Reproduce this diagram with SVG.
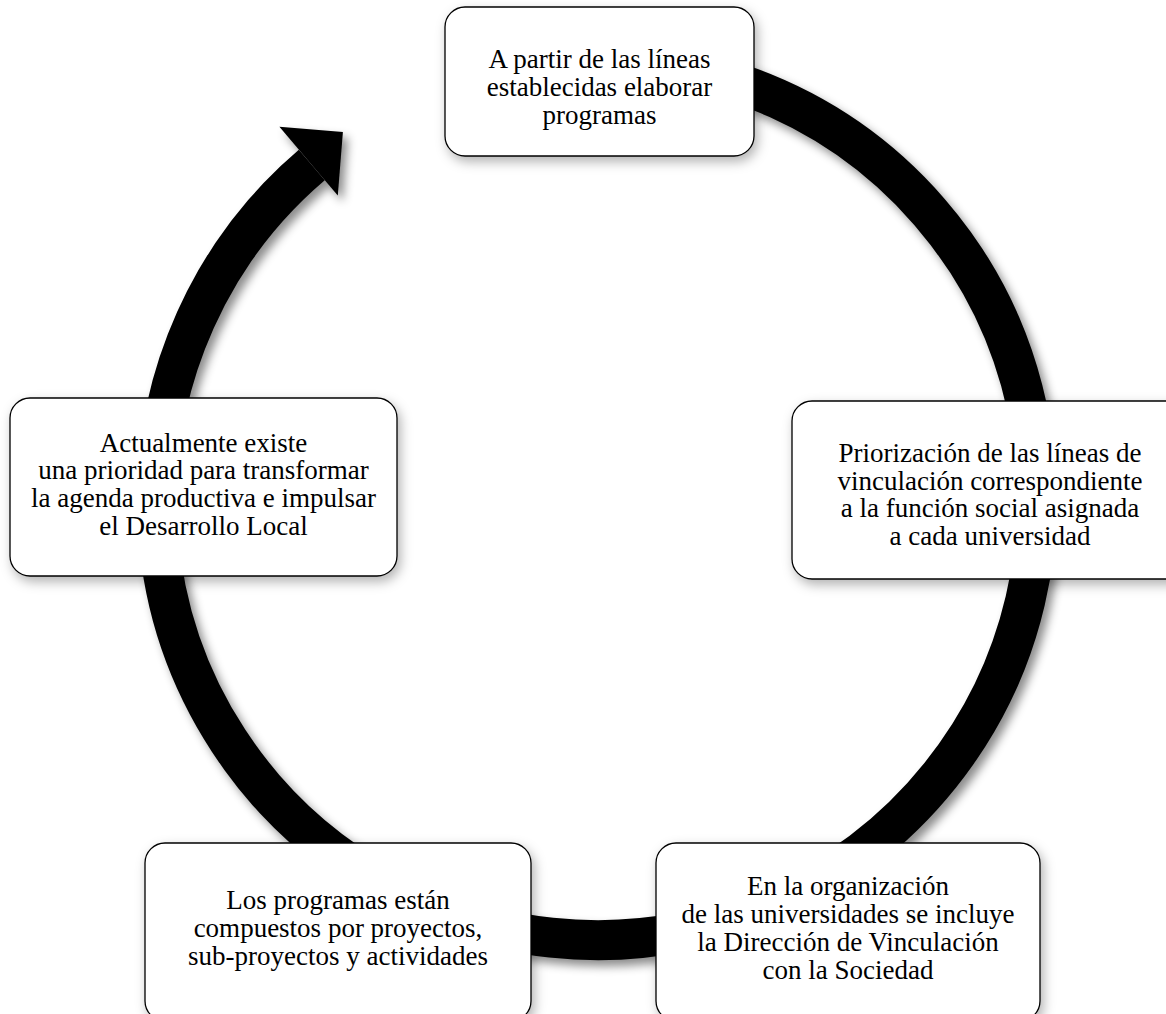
<svg xmlns="http://www.w3.org/2000/svg" width="1166" height="1014" viewBox="0 0 1166 1014">
<defs>
<filter id="shRing" x="-10%" y="-10%" width="125%" height="125%">
<feDropShadow dx="5" dy="6" stdDeviation="5" flood-color="#000" flood-opacity="0.45"/>
</filter>
<filter id="shBox" x="-10%" y="-10%" width="125%" height="130%">
<feDropShadow dx="3" dy="5" stdDeviation="6" flood-color="#000" flood-opacity="0.3"/>
</filter>
<style>
.box{fill:#fff;stroke:#000;stroke-width:1.3;filter:url(#shBox)}
.lbl{font-family:"Liberation Serif","Times New Roman",serif;font-size:27px;fill:#000;text-anchor:middle}
.ring{fill:none;stroke:#000;stroke-width:40}
</style>
</defs>
<rect width="1166" height="1014" fill="#fff"/>
<g id="connectors" filter="url(#shRing)">
<path class="ring" d="M 558.7 61.7 A 440 440 0 1 1 311.8 164.9"/>
<polygon points="342.9,131.9 279.4,126.8 337.8,195.4" fill="#000"/>
</g>
<g id="node-top">
<rect class="box" x="445" y="7" width="309" height="149" rx="20"/>
<text class="lbl" x="599.5"><tspan x="599.5" y="68">A partir de las líneas</tspan><tspan x="599.5" y="96">establecidas elaborar</tspan><tspan x="599.5" y="124">programas</tspan></text>
</g>
<g id="node-right">
<rect class="box" x="792" y="401" width="396" height="178" rx="20"/>
<text class="lbl"><tspan x="990" y="462">Priorización de las líneas de</tspan><tspan x="990" y="490">vinculación correspondiente</tspan><tspan x="990" y="517">a la función social asignada</tspan><tspan x="990" y="545">a cada universidad</tspan></text>
</g>
<g id="node-bottom-right">
<rect class="box" x="656" y="843" width="384" height="178" rx="20"/>
<text class="lbl"><tspan x="848" y="895">En la organización</tspan><tspan x="848" y="923">de las universidades se incluye</tspan><tspan x="848" y="951">la Dirección de Vinculación</tspan><tspan x="848" y="979">con la Sociedad</tspan></text>
</g>
<g id="node-bottom-left">
<rect class="box" x="145" y="843" width="386" height="178" rx="20"/>
<text class="lbl"><tspan x="338" y="909">Los programas están</tspan><tspan x="338" y="937">compuestos por proyectos,</tspan><tspan x="338" y="965">sub-proyectos y actividades</tspan></text>
</g>
<g id="node-left">
<rect class="box" x="10" y="398" width="387" height="178" rx="20"/>
<text class="lbl"><tspan x="203.5" y="452">Actualmente existe</tspan><tspan x="203.5" y="479">una prioridad para transformar</tspan><tspan x="203.5" y="507">la agenda productiva e impulsar</tspan><tspan x="203.5" y="535">el Desarrollo Local</tspan></text>
</g>
</svg>
